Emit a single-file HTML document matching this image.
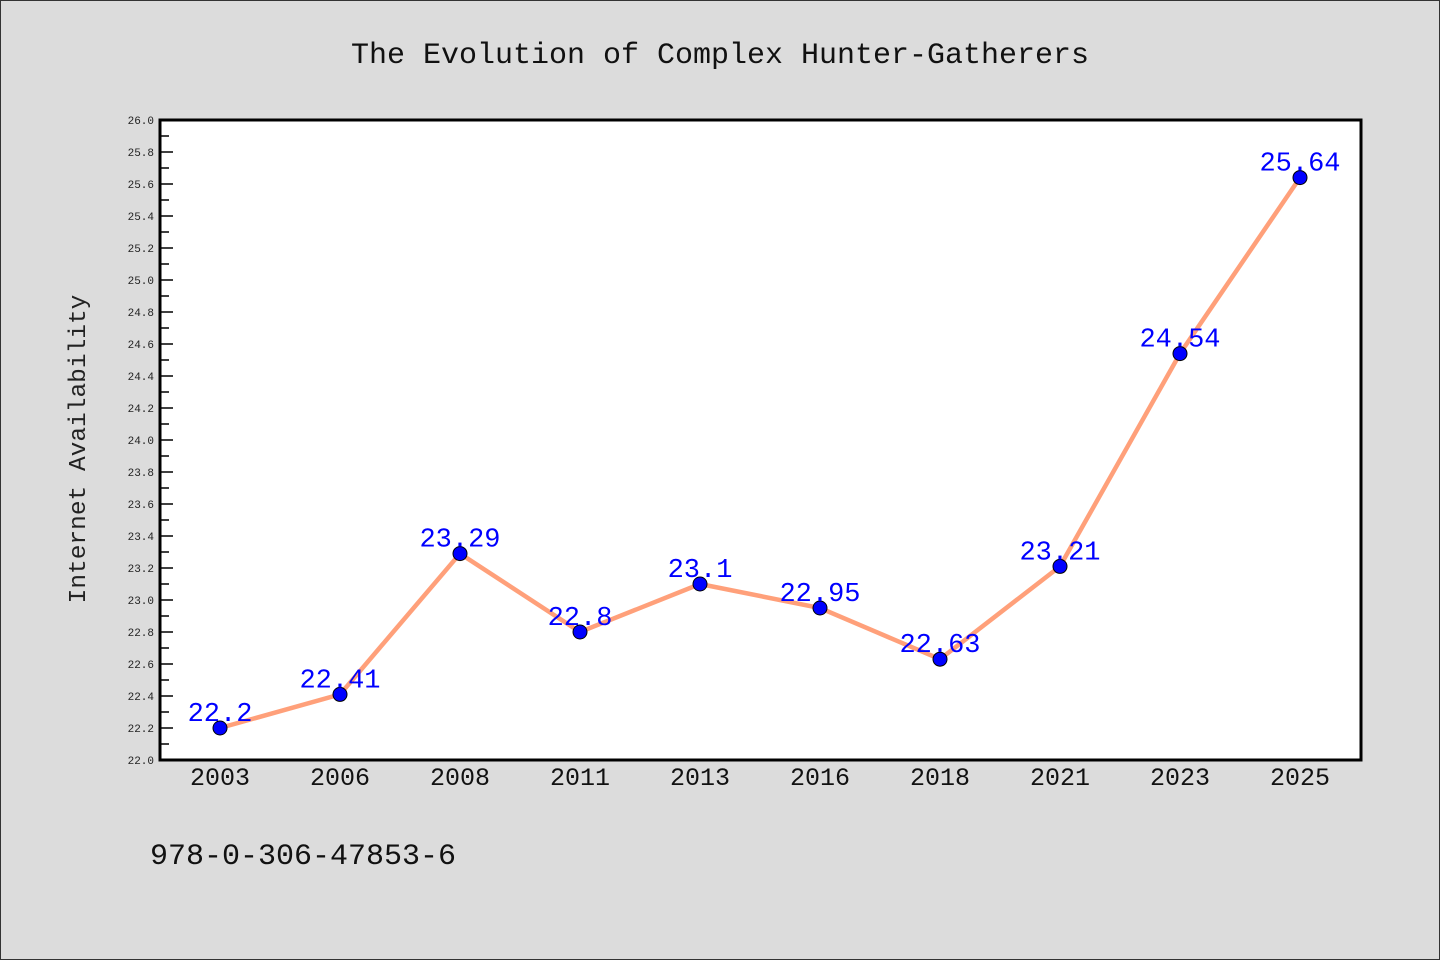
<!DOCTYPE html>
<html><head><meta charset="utf-8"><style>
body{margin:0;background:#dcdcdc;}
svg{display:block;font-family:"WenQuanYi Zen Hei Mono","Liberation Mono",monospace;}
</style></head><body>
<svg id="c" width="1440" height="960">
<rect x="0.5" y="0.5" width="1439" height="959" fill="#dcdcdc" stroke="#333"/>
<text x="720" y="63" text-anchor="middle" font-size="30" fill="#111">The Evolution of Complex Hunter-Gatherers</text>
<rect x="160" y="120" width="1201" height="640" fill="#fff" stroke="#000" stroke-width="3"/>
<text transform="translate(85,449) rotate(-90)" text-anchor="middle" font-size="24.5" fill="#222">Internet Availability</text>
<text x="150" y="864" font-size="30" fill="#111">978-0-306-47853-6</text>
<g id="ticks"></g><g id="marks"></g>
</svg>
<script>
const categories=["2003","2006","2008","2011","2013","2016","2018","2021","2023","2025"];
const values=[22.2,22.41,23.29,22.8,23.1,22.95,22.63,23.21,24.54,25.64];
const valueLabels=["22.2","22.41","23.29","22.8","23.1","22.95","22.63","23.21","24.54","25.64"];
const yMin=22,yMax=26;
const NS="http://www.w3.org/2000/svg";
const L=160,R=1361,T=120,B=760;
const y=v=>B-(v-yMin)/(yMax-yMin)*(B-T);
const x=i=>220+i*(1300-220)/(categories.length-1);
function mk(tag,attrs,parent){const e=document.createElementNS(NS,tag);for(const k in attrs)e.setAttribute(k,attrs[k]);parent.appendChild(e);return e;}
const tg=document.getElementById('ticks'),mg=document.getElementById('marks');
for(let k=0;k<=40;k++){const v=yMin+k*0.1;const yy=y(v);const major=k%2===0;
 const t=mk('line',{x1:L,x2:L+(major?13:9),y1:yy,y2:yy,stroke:'#000','stroke-width':1.5},tg);
 
 
 if(major){const tx=mk('text',{x:L-6,y:yy+4,'text-anchor':'end','font-size':11,fill:'#222'},tg);tx.textContent=v.toFixed(1);
 
 }
}
categories.forEach((c,i)=>{const tx=mk('text',{x:x(i),y:785,'text-anchor':'middle','font-size':25,fill:'#111'},tg);tx.textContent=c;
 
 });
const pl=mk('polyline',{points:values.map((v,i)=>x(i)+','+y(v)).join(' '),fill:'none',stroke:'#ffa07a','stroke-width':4.5},mg);


values.forEach((v,i)=>{const p=mk('circle',{cx:x(i),cy:y(v),r:7,fill:'#0000ff',stroke:'#000','stroke-width':1},mg);
 
 
 const t=mk('text',{x:x(i),y:y(v)-7,'text-anchor':'middle','font-size':27,fill:'#0000ff'},mg);t.textContent=valueLabels[i];
 
 });
</script>
</body></html>
